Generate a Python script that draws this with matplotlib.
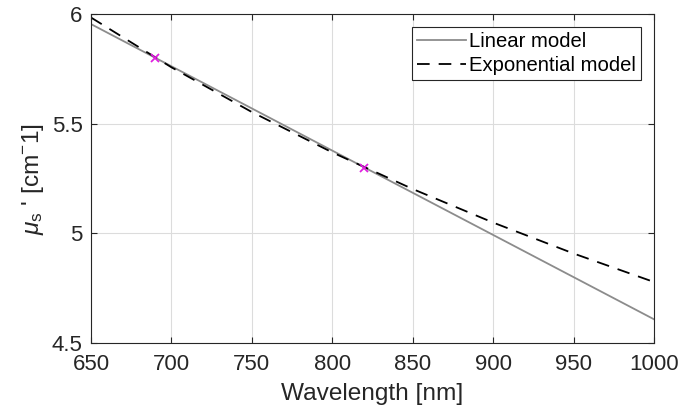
import matplotlib.pyplot as plt

plt.rcParams['font.family'] = ['Liberation Sans', 'DejaVu Sans']
plt.rcParams['mathtext.fontset'] = 'custom'
plt.rcParams['mathtext.rm'] = 'Liberation Sans'
plt.rcParams['mathtext.it'] = 'Liberation Sans:italic'

# linear model (straight line, endpoints)
lin_x = [650, 1000]
lin_y = [5.954, 4.608]

# exponential model
exp_x = [650, 700, 750, 800, 850, 900, 950, 1000]
exp_y = [5.984, 5.757, 5.553, 5.369, 5.202, 5.049, 4.908, 4.778]

# measured points
pts_x = [690, 820]
pts_y = [5.8, 5.3]

fig = plt.figure(figsize=(6.82, 4.19), dpi=100)
ax = fig.add_axes([0.1334, 0.1814, 0.8256, 0.7852])

ax.plot(lin_x, lin_y, color='#8c8c8c', lw=1.3, label='Linear model')
ax.plot(exp_x, exp_y, color='black', lw=1.3, ls=(0, (7, 5)), label='Exponential model')
ax.plot(pts_x, pts_y, 'x', color='#e020e0', ms=6, mew=1.3)

ax.set_xlim(650, 1000)
ax.set_ylim(4.5, 6)
ax.set_xticks(range(650, 1001, 50))
ax.set_yticks([4.5, 5, 5.5, 6])
ax.set_yticklabels(['4.5', '5', '5.5', '6'])
ax.grid(True, color='#dcdcdc', lw=0.8)
ax.set_axisbelow(True)
ax.tick_params(direction='in', labelsize=16, colors='#262626', length=4,
               top=True, right=True)
ax.tick_params(axis='x', pad=8)
ax.tick_params(axis='y', pad=6)
for s in ax.spines.values():
    s.set_color('#262626')
    s.set_linewidth(0.8)

ax.set_xlabel('Wavelength [nm]', fontsize=17.6, color='#262626', labelpad=6)
ax.set_ylabel(r"$\mu_{\rm s}$ ' [cm$^{-}$1]", fontsize=17.6, color='#262626', labelpad=4)

leg = ax.legend(loc='upper right', fontsize=14.6, fancybox=False, framealpha=1,
                edgecolor='#262626', handlelength=2.4, handletextpad=0.15,
                borderpad=0.25, labelspacing=0.25, borderaxespad=0.65)
leg.get_frame().set_linewidth(0.8)

fig.savefig('out.png', dpi=100)
